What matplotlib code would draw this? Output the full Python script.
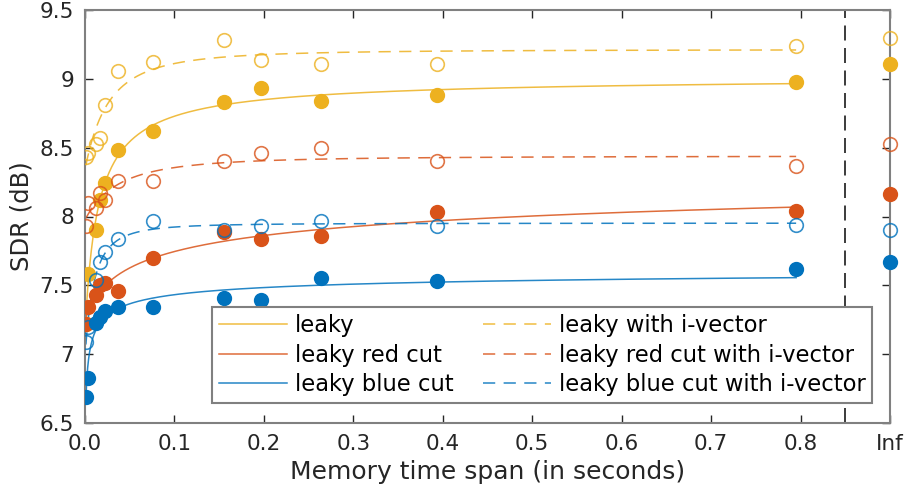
import numpy as np
import matplotlib.pyplot as plt

# memory time span (s) of each leaky setting
span = np.array([0.001, 0.003, 0.012, 0.017, 0.022, 0.037,
                 0.076, 0.155, 0.197, 0.264, 0.394, 0.795])

# SDR (dB) per setting
leaky = [7.22, 7.58, 7.90, 8.12, 8.24, 8.48, 8.62, 8.83, 8.93, 8.84, 8.88, 8.98]
leaky_iv = [8.43, 8.46, 8.53, 8.57, 8.81, 9.06, 9.12, 9.28, 9.14, 9.11, 9.11, 9.24]
red_cut = [7.22, 7.34, 7.43, 7.50, 7.52, 7.46, 7.70, 7.89, 7.84, 7.86, 8.03, 8.04]
red_cut_iv = [7.93, 8.10, 8.06, 8.17, 8.12, 8.26, 8.26, 8.40, 8.46, 8.50, 8.40, 8.37]
blue_cut = [6.69, 6.83, 7.23, 7.27, 7.31, 7.34, 7.34, 7.41, 7.39, 7.55, 7.53, 7.62]
blue_cut_iv = [7.09, 7.20, 7.54, 7.67, 7.74, 7.84, 7.97, 7.90, 7.93, 7.97, 7.93, 7.94]

# infinite memory (no leak)
inf_leaky, inf_leaky_iv = 9.11, 9.30
inf_red, inf_red_iv = 8.16, 8.53
inf_blue, inf_blue_iv = 7.67, 7.90

x_inf = 0.9
x_break = 0.85

yellow = '#EDB120'
red = '#D95319'
blue = '#0072BD'


def fit_curve(x, y, xs):
    # y = a + b*(x + c)^p, grid over c and p, a and b by least squares
    x = np.asarray(x)
    y = np.asarray(y)
    best = None
    for c in np.concatenate([[0.0], np.logspace(-4, -0.5, 50)]):
        for p in np.linspace(-2.0, 0.6, 131):
            if abs(p) < 1e-9:
                continue
            A = np.column_stack([np.ones_like(x), (x + c) ** p])
            coef = np.linalg.lstsq(A, y, rcond=None)[0]
            err = np.sum((A @ coef - y) ** 2)
            if best is None or err < best[0]:
                best = (err, c, p, coef)
    _, c, p, (a, b) = best
    return a + b * (xs + c) ** p


plt.rcParams['font.family'] = 'DejaVu Sans'
fig = plt.figure(figsize=(9.11, 5.0), dpi=100)
ax = fig.add_axes([0.0933, 0.154, 0.8837, 0.826])

xs = np.linspace(span.min(), span.max(), 800)

series = [
    (leaky, inf_leaky, yellow, '-', True, 'leaky'),
    (red_cut, inf_red, red, '-', True, 'leaky red cut'),
    (blue_cut, inf_blue, blue, '-', True, 'leaky blue cut'),
    (leaky_iv, inf_leaky_iv, yellow, '--', False, 'leaky with i-vector'),
    (red_cut_iv, inf_red_iv, red, '--', False, 'leaky red cut with i-vector'),
    (blue_cut_iv, inf_blue_iv, blue, '--', False, 'leaky blue cut with i-vector'),
]

handles = []
for y, yinf, col, ls, filled, name in series:
    face = col if filled else 'none'
    ax.plot(span, y, 'o', ms=9.8, mfc=face, mec=col, mew=1.2,
            alpha=1.0 if filled else 0.8, zorder=3)
    ax.plot([x_inf], [yinf], 'o', ms=9.8, mfc=face, mec=col, mew=1.2,
            alpha=1.0 if filled else 0.8, clip_on=False, zorder=4)
    h, = ax.plot(xs, fit_curve(span, y, xs), ls, color=col, lw=1.1,
                 alpha=0.85, label=name, zorder=2)
    if ls == '--':
        h.set_dashes((8, 5.5))
    handles.append(h)

ax.axvline(x_break, color='#1a1a1a', lw=1.2, dashes=(9, 4.5), zorder=1)

ax.set_xlim(0, 0.9)
ax.set_ylim(6.5, 9.5)
ax.set_xticks([0, 0.1, 0.2, 0.3, 0.4, 0.5, 0.6, 0.7, 0.8, 0.9])
ax.set_xticklabels(['0.0', '0.1', '0.2', '0.3', '0.4', '0.5', '0.6', '0.7', '0.8', 'Inf'])
ax.set_yticks([6.5, 7, 7.5, 8, 8.5, 9, 9.5])
ax.set_yticklabels(['6.5', '7', '7.5', '8', '8.5', '9', '9.5'])
ax.tick_params(direction='in', length=6, width=1, colors='#262626',
               labelsize=15.5, top=True, right=True, pad=8)
for s in ax.spines.values():
    s.set_color('#808080')
    s.set_linewidth(1.5)

ax.set_xlabel('Memory time span (in seconds)', fontsize=18, color='#262626')
ax.set_ylabel('SDR (dB)', fontsize=17.5, color='#262626')

leg = ax.legend(handles=handles, ncol=2, loc='lower left',
                bbox_to_anchor=(0.158, 0.048, 0.82, 0.235), mode='expand',
                borderaxespad=0, fontsize=16.3, handlelength=3.0,
                handletextpad=0.35, columnspacing=1.0, labelspacing=0.3,
                borderpad=0.3, fancybox=False, framealpha=1,
                edgecolor='#808080')
leg.get_frame().set_linewidth(1.5)

fig.savefig('out.png', dpi=100)
